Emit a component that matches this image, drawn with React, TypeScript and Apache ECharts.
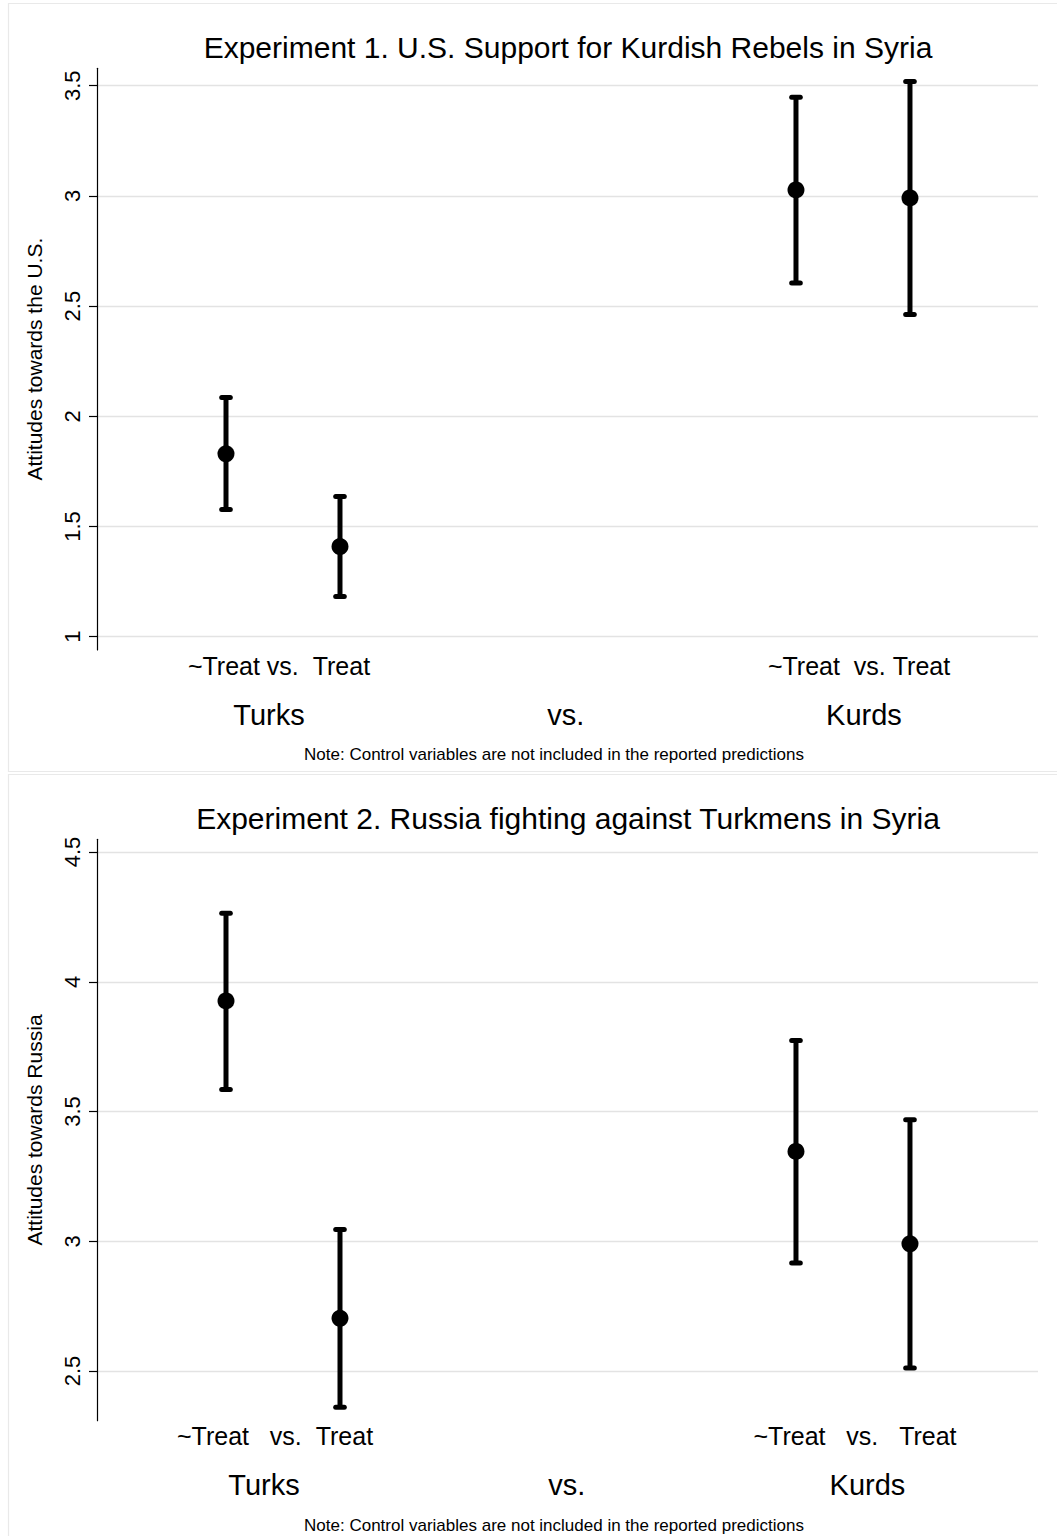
import React, { useEffect, useRef } from "react";
import * as echarts from "echarts";

// ---- data ----
const xPos = [1, 2, 6, 7]; // Turks ~Treat, Turks Treat, Kurds ~Treat, Kurds Treat

const exp1Mean = [1.83, 1.409, 3.027, 2.991];
const exp1Lower = [1.577, 1.183, 2.605, 2.462];
const exp1Upper = [2.085, 1.636, 3.448, 3.519];

const exp2Mean = [3.926, 2.703, 3.346, 2.99];
const exp2Lower = [3.585, 2.36, 2.916, 2.512];
const exp2Upper = [4.264, 3.045, 3.774, 3.468];

const exp1YTicks = [1, 1.5, 2, 2.5, 3, 3.5];
const exp2YTicks = [2.5, 3, 3.5, 4, 4.5];

const NB = "\u00a0";
const exp1TreatLabels = [`~Treat${NB}vs.${NB}${NB}Treat`, `~Treat${NB}${NB}vs.${NB}Treat`];
const exp1TreatPos = [1.465, 6.553];
const exp2TreatLabels = [`~Treat${NB}${NB}${NB}vs.${NB}${NB}Treat`, `~Treat${NB}${NB}${NB}vs.${NB}${NB}${NB}Treat`];
const exp2TreatPos = [1.43, 6.518];

const groupLabels = ["Turks", "vs.", "Kurds"];
const exp1GroupPos = [1.377, 3.98, 6.596];
const exp2GroupPos = [1.333, 3.99, 6.627];

const titles = [
  "Experiment 1. U.S. Support for Kurdish Rebels in Syria",
  "Experiment 2. Russia fighting against Turkmens in Syria",
];
const yNames = ["Attitudes towards the U.S.", "Attitudes towards Russia"];
const noteText = "Note: Control variables are not included in the reported predictions";

const FONT = '"Liberation Sans", Arial, Helvetica, sans-serif';

function lookup(pos: number[], labels: string[]) {
  return (v: number) => {
    const i = pos.findIndex((p) => Math.abs(p - v) < 1e-6);
    return i >= 0 ? labels[i] : "";
  };
}

function rows(mean: number[], lo: number[], hi: number[]) {
  return xPos.map((x, i) => [x, mean[i], lo[i], hi[i]]);
}

const errRender = (params: any, api: any) => {
  const x = api.value(0);
  const lo = api.value(2);
  const hi = api.value(3);
  const pLo = api.coord([x, lo]);
  const pHi = api.coord([x, hi]);
  const cap = 4.3;
  const capStyle = { stroke: "#000", lineWidth: 5, lineCap: "round" };
  return {
    type: "group",
    children: [
      { type: "line", shape: { x1: pLo[0], y1: pLo[1], x2: pHi[0], y2: pHi[1] }, style: { stroke: "#000", lineWidth: 5 } },
      { type: "line", shape: { x1: pLo[0] - cap, y1: pLo[1], x2: pLo[0] + cap, y2: pLo[1] }, style: capStyle },
      { type: "line", shape: { x1: pHi[0] - cap, y1: pHi[1], x2: pHi[0] + cap, y2: pHi[1] }, style: capStyle },
    ],
  };
};

const X_MIN = -0.1316;
const X_MAX = 8.123;

function xAxes(gridIndex: number, treatPos: number[], treatLabels: string[], groupPos: number[]) {
  const base = {
    type: "value",
    gridIndex,
    min: X_MIN,
    max: X_MAX,
    position: "bottom",
    axisLine: { show: false, onZero: false },
    axisTick: { show: false },
    splitLine: { show: false },
  };
  return [
    {
      ...base,
      axisLabel: {
        customValues: treatPos,
        formatter: lookup(treatPos, treatLabels),
        fontSize: 25,
        lineHeight: 25,
        color: "#000",
        fontFamily: FONT,
        margin: 3,
      },
    },
    {
      ...base,
      axisLabel: {
        customValues: groupPos,
        formatter: lookup(groupPos, groupLabels),
        fontSize: 29,
        lineHeight: 29,
        color: "#000",
        fontFamily: FONT,
        margin: 50,
      },
    },
  ];
}

function yAxis(gridIndex: number, min: number, max: number, ticks: number[], name: string) {
  return {
    type: "value",
    gridIndex,
    min,
    max,
    position: "left",
    name,
    nameLocation: "middle",
    nameGap: 52,
    nameTextStyle: { fontSize: 21, color: "#000", fontFamily: FONT },
    axisLine: { show: true, onZero: false, lineStyle: { color: "#000", width: 1.2 } },
    axisTick: { show: true, customValues: ticks, length: 8, lineStyle: { color: "#000", width: 1.2 } },
    axisLabel: {
      customValues: ticks,
      rotate: 90,
      fontSize: 22,
      color: "#000",
      fontFamily: FONT,
      margin: 14,
    },
    splitLine: { show: true, lineStyle: { color: "#e3e3e3", width: 1.3 } },
  };
}

export default function App() {
  const ref = useRef<HTMLDivElement>(null);
  useEffect(() => {
    document.body.style.margin = "0";
    const chart = echarts.init(ref.current!, null, { renderer: "svg" });
    const titleStyle = (text: string, y: number) => ({
      type: "text",
      x: 568,
      y,
      silent: true,
      style: {
        text,
        fontSize: 30,
        fontFamily: FONT,
        fill: "#000",
        align: "center",
        verticalAlign: "middle",
        textAlign: "center",
        textVerticalAlign: "middle",
      },
    });
    const noteStyle = (y: number) => ({
      type: "text",
      x: 554,
      y,
      silent: true,
      style: {
        text: noteText,
        fontSize: 17,
        fontFamily: FONT,
        fill: "#000",
        align: "center",
        verticalAlign: "middle",
        textAlign: "center",
        textVerticalAlign: "middle",
      },
    });
    chart.setOption({
      animation: false,
      backgroundColor: "#fff",
      textStyle: { fontFamily: FONT },
      graphic: [
        { type: "rect", silent: true, shape: { x: 8.5, y: 3.5, width: 1100, height: 768 }, style: { fill: "none", stroke: "#e9e9e9", lineWidth: 1.2 } },
        { type: "rect", silent: true, shape: { x: 8.5, y: 774.5, width: 1100, height: 800 }, style: { fill: "none", stroke: "#e9e9e9", lineWidth: 1.2 } },
        titleStyle(titles[0], 47),
        titleStyle(titles[1], 818),
        noteStyle(754.5),
        noteStyle(1525),
      ],
      grid: [
        { left: 97, top: 68.3, width: 941, height: 581.7, outerBoundsMode: "none", containLabel: false },
        { left: 97, top: 839.3, width: 941, height: 581.4, outerBoundsMode: "none", containLabel: false },
      ],
      xAxis: [
        ...xAxes(0, exp1TreatPos, exp1TreatLabels, exp1GroupPos),
        ...xAxes(1, exp2TreatPos, exp2TreatLabels, exp2GroupPos),
      ],
      yAxis: [
        yAxis(0, 0.9397, 3.579, exp1YTicks, yNames[0]),
        yAxis(1, 2.3085, 4.549, exp2YTicks, yNames[1]),
      ],
      series: [
        {
          type: "custom",
          xAxisIndex: 0,
          yAxisIndex: 0,
          renderItem: errRender,
          clip: false,
          encode: { x: 0, y: [1, 2, 3] },
          data: rows(exp1Mean, exp1Lower, exp1Upper),
          silent: true,
        },
        {
          type: "scatter",
          xAxisIndex: 0,
          yAxisIndex: 0,
          symbol: "circle",
          symbolSize: 17,
          itemStyle: { color: "#000", opacity: 1 },
          data: xPos.map((x, i) => [x, exp1Mean[i]]),
          silent: true,
          z: 5,
        },
        {
          type: "custom",
          xAxisIndex: 2,
          yAxisIndex: 1,
          renderItem: errRender,
          clip: false,
          encode: { x: 0, y: [1, 2, 3] },
          data: rows(exp2Mean, exp2Lower, exp2Upper),
          silent: true,
        },
        {
          type: "scatter",
          xAxisIndex: 2,
          yAxisIndex: 1,
          symbol: "circle",
          symbolSize: 17,
          itemStyle: { color: "#000", opacity: 1 },
          data: xPos.map((x, i) => [x, exp2Mean[i]]),
          silent: true,
          z: 5,
        },
      ],
    });
    return () => chart.dispose();
  }, []);
  return <div ref={ref} style={{ width: 1057, height: 1536 }} />;
}
